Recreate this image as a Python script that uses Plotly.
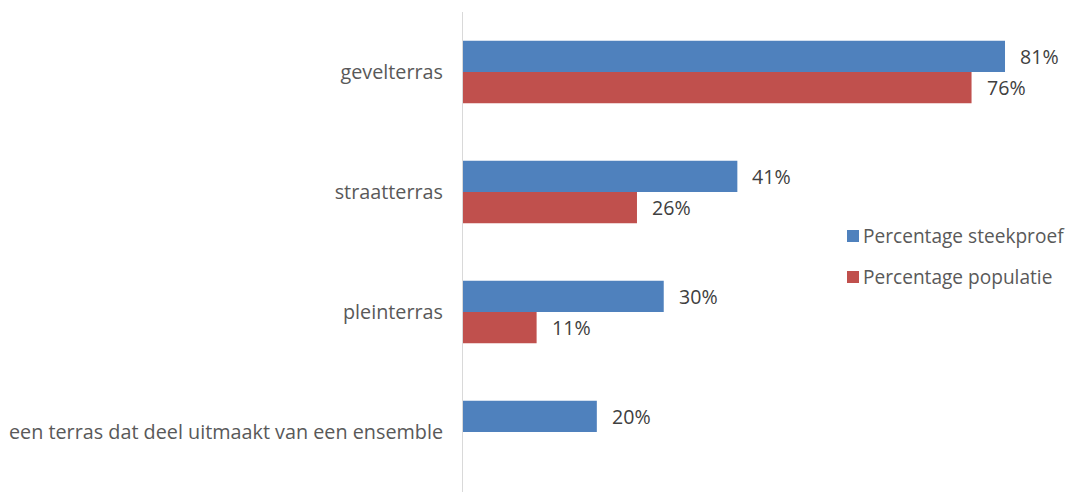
import plotly.graph_objects as go

categories = ["gevelterras", "straatterras", "pleinterras",
              "een terras dat deel uitmaakt van een ensemble"]
steekproef = [0.81, 0.41, 0.30, 0.20]
populatie = [0.76, 0.26, 0.11, None]
series_names = ["Percentage steekproef", "Percentage populatie"]
colors = ["#4F81BD", "#C0504D"]

FONT = "Open Sans"
FS = 19.8
fig = go.Figure()
for name, vals, col in zip(series_names, [steekproef, populatie], colors):
    fig.add_trace(go.Bar(
        y=categories, x=vals, name=name, orientation="h",
        marker=dict(color=col, line=dict(width=0)),
        hoverinfo="skip", showlegend=False,
    ))

annotations = []
shapes = []
# data labels
for i, vals in enumerate([steekproef, populatie]):
    for c, v in zip(categories, vals):
        if v is None:
            continue
        annotations.append(dict(
            x=v, y=c, xref="x", yref="y", text=f"{round(v*100)}%",
            showarrow=False, xanchor="left", xshift=13,
            yshift=(15.5 if i == 0 else -15.5),
            font=dict(family=FONT, size=19.6, color="#404040"),
        ))

# legend (drawn manually)
W, H = 1067, 486
ML, MT, MB, MR = 455, 4, 2, 0
pw, ph = W - ML - MR, H - MT - MB
leg_x_px = 839  # symbol left, figure coords
leg_y_px = [228, 269]  # item centres
for name, col, yc in zip(series_names, colors, leg_y_px):
    x0 = (leg_x_px - ML) / pw
    x1 = (leg_x_px + 12 - ML) / pw
    y0 = 1 - (yc + 6 - MT) / ph
    y1 = 1 - (yc - 6 - MT) / ph
    shapes.append(dict(type="rect", xref="paper", yref="paper",
                       x0=x0, x1=x1, y0=y0, y1=y1,
                       fillcolor=col, line=dict(width=0)))
    annotations.append(dict(
        x=(leg_x_px + 15 - ML) / pw, y=1 - (yc - MT) / ph,
        xref="paper", yref="paper", text=name, showarrow=False,
        xanchor="left", yanchor="middle", borderpad=0,
        font=dict(family=FONT, size=19.1, color="#595959"),
    ))

fig.update_layout(
    width=W, height=H,
    margin=dict(l=ML, r=MR, t=MT, b=MB),
    barmode="group", bargap=0.48, bargroupgap=0,
    plot_bgcolor="white", paper_bgcolor="white",
    font=dict(family=FONT, size=FS, color="#595959"),
    showlegend=False,
    annotations=annotations, shapes=shapes,
    xaxis=dict(range=[0, 0.9146 * (pw / 612)], showgrid=False, zeroline=False,
               showticklabels=False, showline=False, fixedrange=True),
    yaxis=dict(autorange="reversed", showgrid=False, showline=True,
               linecolor="#D9D9D9", linewidth=1, ticks="", automargin=False,
               ticklabelstandoff=15, tickfont=dict(family=FONT, size=FS, color="#595959")),
)
fig.write_html("out.html")
